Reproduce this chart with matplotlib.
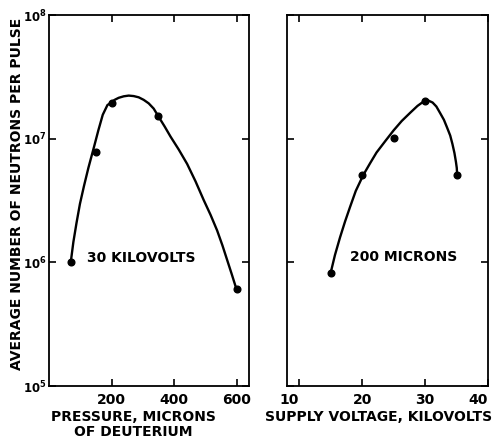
import matplotlib
matplotlib.use("Agg")
import matplotlib.pyplot as plt
from matplotlib.ticker import FixedLocator, FixedFormatter, NullLocator

plt.rcParams['font.family'] = ['DejaVu Sans']
plt.rcParams['font.weight'] = 'bold'
plt.rcParams['mathtext.default'] = 'bf'

# Neutron yield vs. deuterium pressure (at 30 kV)
pressure_pts = [70, 150, 200, 350, 600]
pressure_yield = [1.0e6, 7.85e6, 1.95e7, 1.515e7, 6.05e5]
pressure_curve_x = [70, 78, 88, 99, 112, 126, 144, 158, 172, 187, 198,
                    210, 223, 239, 255, 271, 287, 303, 319, 335, 350,
                    370, 389, 415, 442, 469, 495, 517, 538, 555, 570,
                    585, 600]
pressure_curve_y = [1.02e6, 1.46e6, 2.08e6, 2.97e6, 4.15e6, 5.80e6, 8.57e6,
                    1.17e7, 1.56e7, 1.87e7, 1.95e7, 2.06e7, 2.14e7, 2.20e7,
                    2.23e7, 2.21e7, 2.16e7, 2.06e7, 1.93e7, 1.75e7, 1.515e7,
                    1.255e7, 1.038e7, 8.18e6, 6.25e6, 4.51e6, 3.19e6,
                    2.42e6, 1.81e6, 1.37e6, 1.046e6, 7.99e5, 6.05e5]

# Neutron yield vs. supply voltage (at 200 microns)
voltage_pts = [15, 20, 25, 30, 35]
voltage_yield = [8.17e5, 5.09e6, 1.02e7, 2.03e7, 5.09e6]
voltage_curve_x = [15.0, 15.7, 16.5, 17.3, 18.1, 19.0, 20.2, 21.3, 22.3,
                   23.7, 25.0, 26.3, 27.7, 28.8, 29.9, 30.5, 31.2, 31.8,
                   32.4, 33.0, 33.5, 34.0, 34.35, 34.67, 34.91, 35.04, 35.1]
voltage_curve_y = [8.17e5, 1.148e6, 1.59e6, 2.14e6, 2.81e6, 3.78e6, 5.09e6,
                   6.36e6, 7.73e6, 9.58e6, 1.165e7, 1.39e7, 1.63e7, 1.84e7,
                   2.02e7, 2.036e7, 1.96e7, 1.82e7, 1.61e7, 1.42e7, 1.23e7,
                   1.06e7, 9.06e6, 7.66e6, 6.48e6, 5.80e6, 5.09e6]

y_ticks = [1e5, 1e6, 1e7, 1e8]
y_tick_labels = ['$10^{5}$', '$10^{6}$', '$10^{7}$', '$10^{8}$']
p_ticks = [200, 400, 600]
p_tick_labels = ['200', '400', '600']
v_ticks = [10, 20, 30, 40]
v_tick_labels = ['10', '20', '30', '40']

FS = 10

fig = plt.figure(figsize=(5, 4.4), dpi=100)
W, H = 500.0, 440.0
bottom = 1 - 386 / H
height = 371 / H
ax1 = fig.add_axes([49 / W, bottom, 200 / W, height])
ax2 = fig.add_axes([286.5 / W, bottom, 201.5 / W, height])

for ax in (ax1, ax2):
    ax.set_yscale('log')
    ax.set_ylim(1e5, 1e8)
    ax.yaxis.set_major_locator(FixedLocator(y_ticks))
    ax.yaxis.set_minor_locator(NullLocator())
    ax.xaxis.set_minor_locator(NullLocator())
    for s in ax.spines.values():
        s.set_linewidth(1.3)
    ax.tick_params(direction='in', top=True, right=True, length=5, width=1.2,
                   labelsize=FS, pad=5)
    ax.tick_params(axis='y', pad=1.5, labelsize=8.5)

ax1.plot(pressure_curve_x, pressure_curve_y, color='black', lw=1.7,
         solid_joinstyle='round', solid_capstyle='round')
ax1.plot(pressure_pts, pressure_yield, 'o', color='black', ms=4.8)
ax1.set_xlim(0, 640)
ax1.xaxis.set_major_locator(FixedLocator(p_ticks))
ax1.xaxis.set_major_formatter(FixedFormatter(p_tick_labels))
ax1.yaxis.set_major_formatter(FixedFormatter(y_tick_labels))
ax1.text(0.19, 0.346, '30 KILOVOLTS', transform=ax1.transAxes,
         fontsize=FS, fontweight='bold', ha='left', va='center')

ax2.plot(voltage_curve_x, voltage_curve_y, color='black', lw=1.7,
         solid_joinstyle='round', solid_capstyle='round')
ax2.plot(voltage_pts, voltage_yield, 'o', color='black', ms=4.8)
ax2.set_xlim(8, 40)
ax2.xaxis.set_major_locator(FixedLocator(v_ticks))
ax2.xaxis.set_major_formatter(FixedFormatter(v_tick_labels))
ax2.tick_params(axis='y', labelleft=False)
labels = ax2.get_xticklabels()
labels[0].set_ha('right')
labels[-1].set_ha('right')
ax2.text(0.315, 0.348, '200 MICRONS', transform=ax2.transAxes,
         fontsize=FS, fontweight='bold', ha='left', va='center')

fig.text(17 / W, 1 - 194 / H, 'AVERAGE NUMBER OF NEUTRONS PER PULSE',
         rotation=90, ha='center', va='center', fontsize=FS, fontweight='bold')
fig.text(133 / W, 1 - 410 / H, 'PRESSURE, MICRONS\nOF DEUTERIUM',
         ha='center', va='top', multialignment='center', linespacing=1.05,
         fontsize=FS, fontweight='bold')
fig.text(379 / W, 1 - 410 / H, 'SUPPLY VOLTAGE, KILOVOLTS',
         ha='center', va='top', fontsize=FS, fontweight='bold')

fig.savefig('out.png', dpi=100)
